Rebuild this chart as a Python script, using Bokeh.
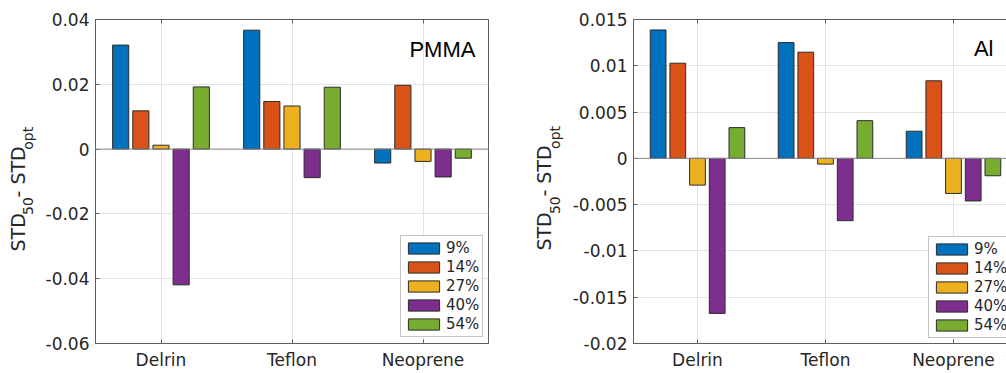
import math
from bokeh.plotting import figure
from bokeh.layouts import row
from bokeh.models import Range1d, FixedTicker, Span, Label, Legend, LegendItem, LinearAxis
from bokeh.embed import file_html
from bokeh.resources import INLINE

# ---------------- data ----------------
categories = ["Delrin", "Teflon", "Neoprene"]
series_labels = ["9%", "14%", "27%", "40%", "54%"]
series_colors = ["#0072BD", "#D95319", "#EDB120", "#7E2F8E", "#77AC30"]

# PMMA panel (STD_50 - STD_opt), one list per percentage, values per category
pmma_9 = [0.0321, 0.0367, -0.0043]
pmma_14 = [0.0118, 0.0147, 0.0197]
pmma_27 = [0.0012, 0.0133, -0.0038]
pmma_40 = [-0.0419, -0.0088, -0.0086]
pmma_54 = [0.0192, 0.0191, -0.0028]

# Al panel
al_9 = [0.01387, 0.01251, 0.00293]
al_14 = [0.01028, 0.01147, 0.00838]
al_27 = [-0.00289, -0.00062, -0.00379]
al_40 = [-0.01675, -0.00673, -0.00460]
al_54 = [0.00332, 0.00407, -0.00188]

pmma_yticks = [-0.06, -0.04, -0.02, 0, 0.02, 0.04]
pmma_ytick_labels = ["-0.06", "-0.04", "-0.02", "0", "0.02", "0.04"]
al_yticks = [-0.02, -0.015, -0.01, -0.005, 0, 0.005, 0.01, 0.015]
al_ytick_labels = ["-0.02", "-0.015", "-0.01", "-0.005", "0", "0.005", "0.01", "0.015"]

# ---------------- style ----------------
TEXT = "#262626"
FRAME = "#5e5e5e"
GRID = "#e2e2e2"
FONT = "DejaVu Sans"
H = 373
K_ACROSS = 0.47   # empirical anchor correction of rotated labels (em)
K_ALONG = 0.74


def make_ylabel_fig(width, base_x, y_start, sub_shift=8.5):
    """A narrow, axis-less figure holding the rotated label STD_50 - STD_opt."""
    f = figure(width=width, height=H, output_backend="svg", toolbar_location=None,
               x_range=Range1d(0, width), y_range=Range1d(0, H),
               x_axis_type=None, y_axis_type=None, min_border=0,
               background_fill_color="white", border_fill_color="white")
    f.outline_line_color = None
    m, s = 19, 14
    w_std = 2.016 * m
    w_50 = 1.272 * s
    w_sp = 0.318 * m
    w_dash_std = (0.361 + 0.318 + 2.016) * m
    pieces = [("STD", m, 0.0, 0.0),
              ("50", s, sub_shift, w_std),
              ("- STD", m, 0.0, w_std + w_50 + w_sp),
              ("opt", s, sub_shift, w_std + w_50 + w_sp + w_dash_std)]
    for txt, size, dx, along in pieces:
        f.add_layout(Label(x=base_x + dx - K_ACROSS * size,
                           y=y_start + along - K_ALONG * size,
                           text=txt, angle=math.pi / 2,
                           text_align="left", text_baseline="alphabetic",
                           text_font=FONT, text_font_size=f"{size}px",
                           text_color=TEXT))
    return f


def style_axis(ax):
    ax.axis_line_color = FRAME
    ax.major_tick_line_color = FRAME
    ax.major_tick_in = 4
    ax.major_tick_out = 0
    ax.minor_tick_line_color = None
    ax.major_label_text_font = FONT
    ax.major_label_text_font_size = "17px"
    ax.major_label_text_color = TEXT
    ax.major_label_standoff = 6


def make_panel(series, yticks, ytick_labels, title, title_x, title_y,
               width, border_left, border_right, border_top, border_bottom,
               x_end, legend_loc, right_clipped):
    n = len(series)
    group_w = min(0.8, n / (n + 1.5))
    step = group_w / n
    bar_w = 0.8 * step

    p = figure(width=width, height=H, output_backend="svg", toolbar_location=None,
               x_range=Range1d(0.5, x_end), y_range=Range1d(yticks[0], yticks[-1]),
               min_border_left=border_left, min_border_right=border_right,
               min_border_top=border_top, min_border_bottom=border_bottom,
               background_fill_color="white", border_fill_color="white")
    p.outline_line_color = None if right_clipped else FRAME
    p.outline_line_width = 1

    cat_ticks = [i + 1 for i in range(len(categories))]
    p.xaxis.ticker = FixedTicker(ticks=cat_ticks)
    p.xaxis.major_label_overrides = {t: c for t, c in zip(cat_ticks, categories)}
    p.yaxis.ticker = FixedTicker(ticks=yticks)
    p.yaxis.major_label_overrides = {t: l for t, l in zip(yticks, ytick_labels)}
    style_axis(p.xaxis[0])
    style_axis(p.yaxis[0])

    # mirrored (box) ticks along the top edge
    top = LinearAxis(ticker=FixedTicker(ticks=cat_ticks),
                     major_label_overrides={t: "" for t in cat_ticks})
    style_axis(top)
    top.major_label_standoff = 0
    p.add_layout(top, "above")

    p.xgrid.ticker = FixedTicker(ticks=cat_ticks)
    p.ygrid.ticker = FixedTicker(ticks=yticks)
    p.xgrid.grid_line_color = GRID
    p.ygrid.grid_line_color = GRID

    items = []
    for j, (vals, lab, col) in enumerate(zip(series, series_labels, series_colors)):
        off = (j - (n - 1) / 2) * step
        xs = [i + 1 + off for i in range(len(categories))]
        r = p.vbar(x=xs, top=vals, bottom=0, width=bar_w, fill_color=col,
                   line_color="#2b2b2b", line_width=1)
        items.append(LegendItem(label=lab, renderers=[r]))

    p.add_layout(Span(location=0, dimension="width", line_color="#8a8a8a", line_width=1))

    legend = Legend(items=items, location=legend_loc,
                    label_text_font=FONT, label_text_font_size="15px",
                    label_text_color=TEXT, glyph_width=39, glyph_height=14,
                    label_height=14, label_standoff=3, spacing=1, padding=3,
                    margin=0, border_line_color="#8a8a8a", border_line_width=1,
                    background_fill_color="white", background_fill_alpha=1)
    p.add_layout(legend)

    p.add_layout(Label(x=title_x, y=title_y, text=title, text_align="right",
                       text_baseline="alphabetic", text_font="Liberation Sans",
                       text_font_size="22px", text_color="black"))
    return p


lab1 = make_ylabel_fig(40, base_x=26, y_start=H - 253)
p1 = make_panel([pmma_9, pmma_14, pmma_27, pmma_40, pmma_54],
                pmma_yticks, pmma_ytick_labels, "PMMA", 3.40, 0.0308,
                width=460, border_left=55, border_right=12, border_top=19, border_bottom=28,
                x_end=3.5, legend_loc=(305, 6), right_clipped=False)

lab2 = make_ylabel_fig(68, base_x=52.5, y_start=H - 252)
p2 = make_panel([al_9, al_14, al_27, al_40, al_54],
                al_yticks, al_ytick_labels, "Al", 3.3125, 0.0119,
                width=438, border_left=65, border_right=0, border_top=18, border_bottom=30,
                x_end=0.5 + 373 / 128, legend_loc=(295, 5), right_clipped=True)

layout = row(lab1, p1, lab2, p2)
open("out.html", "w").write(file_html(layout, INLINE))
